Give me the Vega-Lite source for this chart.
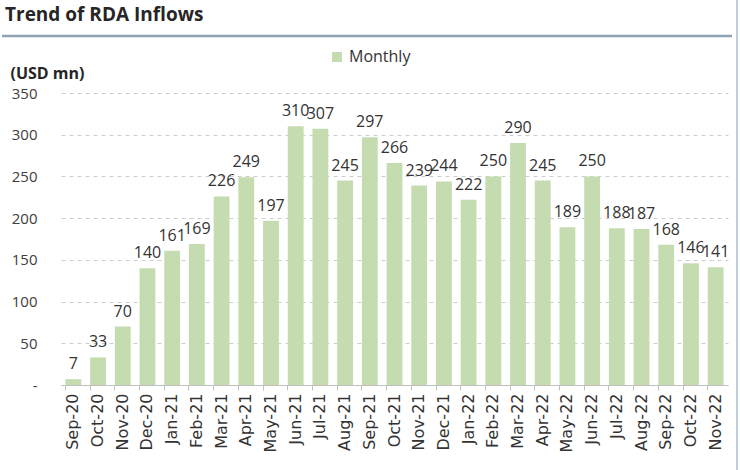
{
  "$schema": "https://vega.github.io/schema/vega-lite/v6.json",
  "width": 667,
  "height": 292,
  "autosize": "none",
  "padding": {"left": 61, "top": 93, "right": 12, "bottom": 85},
  "background": "white",
  "config": {
    "font": "Open Sans",
    "view": {"stroke": null}
  },
  "title": {
    "text": "Trend of RDA Inflows",
    "anchor": "start",
    "frame": "group",
    "dx": -56,
    "dy": 36,
    "fontSize": 19,
    "fontWeight": "bold",
    "color": "#262626",
    "offset": 10
  },
  "data": {
    "values": [
      {"month": "Sep-20", "value": 7},
      {"month": "Oct-20", "value": 33},
      {"month": "Nov-20", "value": 70},
      {"month": "Dec-20", "value": 140},
      {"month": "Jan-21", "value": 161},
      {"month": "Feb-21", "value": 169},
      {"month": "Mar-21", "value": 226},
      {"month": "Apr-21", "value": 249},
      {"month": "May-21", "value": 197},
      {"month": "Jun-21", "value": 310},
      {"month": "Jul-21", "value": 307},
      {"month": "Aug-21", "value": 245},
      {"month": "Sep-21", "value": 297},
      {"month": "Oct-21", "value": 266},
      {"month": "Nov-21", "value": 239},
      {"month": "Dec-21", "value": 244},
      {"month": "Jan-22", "value": 222},
      {"month": "Feb-22", "value": 250},
      {"month": "Mar-22", "value": 290},
      {"month": "Apr-22", "value": 245},
      {"month": "May-22", "value": 189},
      {"month": "Jun-22", "value": 250},
      {"month": "Jul-22", "value": 188},
      {"month": "Aug-22", "value": 187},
      {"month": "Sep-22", "value": 168},
      {"month": "Oct-22", "value": 146},
      {"month": "Nov-22", "value": 141}
    ]
  },
  "encoding": {
    "x": {
      "field": "month",
      "type": "nominal",
      "sort": null,
      "scale": {"paddingInner": 0.36, "paddingOuter": 0.18},
      "axis": {
        "title": null,
        "labelAngle": -90,
        "labelAlign": "right",
        "labelBaseline": "middle",
        "labelFont": "DejaVu Sans",
        "labelFontSize": 16,
        "labelColor": "#333333",
        "labelPadding": 3,
        "bandPosition": 0,
        "tickSize": 5,
        "tickColor": "#c0c0c0",
        "domainColor": "#c0c0c0",
        "grid": false
      }
    },
    "y": {
      "field": "value",
      "type": "quantitative",
      "scale": {"domain": [0, 350], "nice": false},
      "axis": {
        "values": [0, 50, 100, 150, 200, 250, 300, 350],
        "labelExpr": "datum.value == 0 ? '-' : datum.label",
        "labelFontSize": 15,
        "labelColor": "#404040",
        "labelPadding": 24,
        "ticks": false,
        "domain": false,
        "gridDash": [4, 4],
        "gridColor": "#cccccc",
        "title": "(USD mn)",
        "titleAngle": 0,
        "titleAlign": "left",
        "titleBaseline": "alphabetic",
        "titleX": -51,
        "titleY": -15,
        "titleFontSize": 16,
        "titleFontWeight": "bold",
        "titleColor": "#262626"
      }
    }
  },
  "layer": [
    {
      "mark": {"type": "bar"},
      "encoding": {
        "color": {
          "datum": "Monthly",
          "type": "nominal",
          "scale": {"range": ["#c4dcb0"]},
          "legend": {
            "title": null,
            "orient": "none",
            "legendX": 268,
            "legendY": -44,
            "symbolType": "square",
            "symbolSize": 100,
            "symbolStrokeWidth": 0,
            "labelFontSize": 16,
            "labelColor": "#333333"
          }
        }
      }
    },
    {
      "mark": {"type": "text", "baseline": "bottom", "dy": -7, "fontSize": 16, "color": "#333333"},
      "encoding": {
        "text": {"field": "value", "type": "quantitative"}
      }
    },
    {
      "data": {"values": [{}]},
      "mark": {"type": "rule", "color": "#8ea3b6", "strokeWidth": 2.5},
      "encoding": {
        "x": {"value": -59},
        "x2": {"value": 671},
        "y": {"value": -57}
      }
    },
    {
      "data": {"values": [{}]},
      "mark": {"type": "rule", "color": "#a9bccd", "strokeWidth": 1.5},
      "encoding": {
        "x": {"value": 676},
        "y": {"value": -93},
        "y2": {"value": 377}
      }
    }
  ]
}
